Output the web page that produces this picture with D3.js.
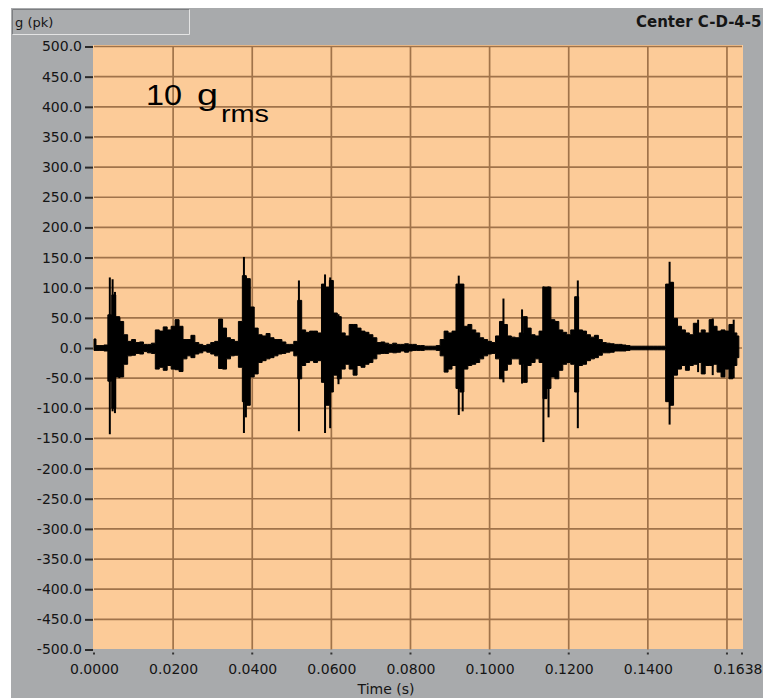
<!DOCTYPE html>
<html>
<head>
<meta charset="utf-8">
<title>Center C-D-4-5</title>
<script src="https://cdn.jsdelivr.net/npm/d3@7"></script>
<style>
    html, body { margin: 0; padding: 0; background: #fff; }
    #chart { width: 763px; height: 698px; }
</style>
</head>
<body>
<div id="chart"></div>
<script>
// Waveform envelope (min/max per 1 ms sample)
const t0 = 0;
const dt = 0.001;

const peakHigh = [
    15, 4, 4, 5,
    55, 88, 52, 44, 22, 11,
    14, 9, 10, 6, 6, 8,
    30, 28, 35, 30, 36, 47, 36, 14, 14, 21,
    9, 6, 4, 6, 9, 11, 48, 33, 17, 14,
    11, 44, 120, 115, 68, 33, 22, 20, 24, 17,
    14, 14, 10, 6, 6, 11, 79, 30, 26, 28,
    28, 25, 106, 101, 112, 58, 52, 25, 20, 39,
    39, 33, 28, 26, 22, 17, 9, 10, 8, 6,
    8, 6, 6, 7, 6, 6, 4, 4, 3, 3,
    3, 4, 14, 28, 25, 28, 106, 106, 36, 39,
    30, 25, 17, 14, 11, 9, 20, 44, 39, 20,
    18, 17, 25, 52, 33, 22, 20, 28, 101, 101,
    47, 44, 30, 26, 22, 30, 85, 30, 28, 22,
    18, 21, 14, 9, 8, 7, 6, 6, 5, 4,
    3, 3, 3, 3, 3, 3, 3, 3, 3, 106,
    109, 49, 36, 30, 25, 22, 41, 25, 30, 25,
    47, 36, 28, 30, 28, 39, 25, 20
];

const peakLow = [
    -4, -4, -4, -5,
    -55, -100, -48, -48, -27, -13,
    -12, -9, -10, -6, -8, -9,
    -35, -32, -37, -29, -35, -36, -39, -18, -13, -16,
    -10, -8, -5, -7, -10, -13, -34, -35, -18, -13,
    -12, -32, -89, -95, -48, -43, -24, -21, -18, -16,
    -13, -10, -9, -7, -5, -13, -51, -29, -24, -21,
    -24, -21, -57, -95, -73, -45, -51, -35, -27, -35,
    -45, -29, -32, -27, -24, -18, -10, -9, -9, -7,
    -8, -7, -5, -7, -5, -4, -4, -4, -3, -3,
    -3, -4, -13, -40, -35, -29, -67, -73, -35, -29,
    -27, -24, -18, -13, -10, -9, -18, -51, -37, -27,
    -18, -18, -27, -57, -29, -24, -18, -24, -84, -67,
    -48, -51, -37, -27, -24, -27, -73, -29, -27, -21,
    -18, -16, -12, -8, -8, -7, -5, -5, -5, -4,
    -3, -3, -3, -3, -3, -3, -3, -3, -3, -89,
    -95, -45, -35, -29, -37, -29, -27, -24, -43, -29,
    -29, -27, -40, -48, -35, -51, -29, -16
];

// Narrow shock spikes on top of the envelope
const spikeTime = [0.0040, 0.0047, 0.0053, 0.0064, 0.0379, 0.0384, 0.0518, 0.0584, 0.0597, 0.0618,
                   0.0922, 0.0932, 0.1035, 0.1082, 0.1136, 0.1149, 0.1223, 0.1455, 0.1461, 0.1527,
                   0.1564, 0.1617];
const spikeHigh = [117, 114, 93, 50, 151, 118, 112, 122, 117, 56,
                   120, 106, 82, 64, 102, 102, 112, 143, 109, 47,
                   49, 47];
const spikeLow = [-143, -105, -108, -50, -141, -115, -138, -141, -133, -60,
                  -111, -105, -57, -59, -156, -115, -133, -127, -89, -40,
                  -45, -50];

const yTickValues = [500, 450, 400, 350, 300, 250, 200, 150, 100, 50, 0,
                     -50, -100, -150, -200, -250, -300, -350, -400, -450, -500];
const xGridValues = [0.02, 0.04, 0.06, 0.08, 0.10, 0.12, 0.14, 0.16];
const xLabelValues = [0, 0.02, 0.04, 0.06, 0.08, 0.10, 0.12, 0.14, 0.1638];

const yTitle = 'g (pk)';
const xTitle = 'Time (s)';
const plotTitle = 'Center C-D-4-5';

const W = 763, H = 698;
const plot = { left: 94, right: 742, top: 46.5, bottom: 649.5 };
const colors = {
    frame: '#a8aaac',
    plotBg: '#fccb98',
    grid: '#a0734a',
    text: '#151515',
    trace: '#000'
};
const uiFont = '"DejaVu Sans", Verdana, sans-serif';
const noteFont = '"Liberation Sans", Arial, sans-serif';

const x = d3.scaleLinear().domain([0, 0.1638]).range([plot.left, plot.right]);
const y = d3.scaleLinear().domain([-500, 500]).range([plot.bottom, plot.top]);

const svg = d3.select('#chart').append('svg')
    .attr('width', W)
    .attr('height', H);

// window frame
svg.append('rect').attr('width', W).attr('height', H).attr('fill', '#fff');
svg.append('rect')
    .attr('x', 11).attr('y', 8)
    .attr('width', W - 11).attr('height', H - 8)
    .attr('fill', colors.frame);

// y name box (top left)
const box = svg.append('g');
box.append('rect')
    .attr('x', 12.5).attr('y', 9.5).attr('width', 177).attr('height', 25)
    .attr('fill', '#aaacae');
box.append('path')
    .attr('d', 'M12.5,34.5 V9.5 H189.5')
    .attr('fill', 'none').attr('stroke', '#7c7e81');
box.append('path')
    .attr('d', 'M12.5,34.5 H189.5 V9.5')
    .attr('fill', 'none').attr('stroke', '#e4e4e4');
box.append('text')
    .attr('x', 15).attr('y', 27)
    .attr('font-family', uiFont).attr('font-size', 13)
    .attr('fill', colors.text)
    .text(yTitle);

// plot title (top right)
svg.append('text')
    .attr('x', 636).attr('y', 27)
    .attr('font-family', uiFont).attr('font-size', 15).attr('font-weight', 'bold')
    .attr('fill', colors.text)
    .text(plotTitle);

// plot background
svg.append('rect')
    .attr('x', plot.left - 1).attr('y', plot.top - 1.5)
    .attr('width', plot.right - plot.left + 2).attr('height', plot.bottom - plot.top + 1)
    .attr('fill', colors.plotBg);

// grid
const grid = svg.append('g').attr('stroke', colors.grid).attr('stroke-width', 1.7);
grid.selectAll('.hgrid')
    .data(yTickValues.filter(v => v !== -500))
    .enter().append('line')
    .attr('x1', plot.left).attr('x2', plot.right)
    .attr('y1', d => y(d)).attr('y2', d => y(d));
grid.selectAll('.vgrid')
    .data(xGridValues)
    .enter().append('line')
    .attr('y1', plot.top).attr('y2', plot.bottom)
    .attr('x1', d => x(d)).attr('x2', d => x(d));

// y axis
const yAxis = svg.append('g')
    .attr('transform', `translate(${plot.left - 1},0)`)
    .call(d3.axisLeft(y).tickValues(yTickValues).tickSize(8).tickPadding(3)
        .tickFormat(d => d.toFixed(1)));
yAxis.select('.domain').remove();
yAxis.selectAll('.tick line').attr('stroke', '#2a2a2a').attr('stroke-width', 2);
yAxis.selectAll('.tick text')
    .attr('font-family', uiFont).attr('font-size', 14).attr('fill', colors.text);

// x axis
const xAxis = svg.append('g')
    .attr('transform', `translate(0,${plot.bottom + 1})`)
    .call(d3.axisBottom(x).tickValues(xLabelValues).tickSize(0).tickPadding(14)
        .tickFormat(d => d.toFixed(4)));
xAxis.select('.domain').remove();
xAxis.selectAll('.tick text')
    .attr('font-family', uiFont).attr('font-size', 14).attr('fill', colors.text);
// last label sits against the right edge of the window
xAxis.selectAll('.tick text')
    .filter(d => d === 0.1638)
    .attr('text-anchor', 'end')
    .attr('x', W - 1 - x(0.1638));

// small tick dots under the plot
svg.append('g').selectAll('rect')
    .data([0].concat(xGridValues, [0.1638]))
    .enter().append('rect')
    .attr('x', d => x(d) - 1).attr('y', plot.bottom + 3)
    .attr('width', 2).attr('height', 2)
    .attr('fill', '#333');

svg.append('text')
    .attr('x', 386).attr('y', 694)
    .attr('text-anchor', 'middle')
    .attr('font-family', uiFont).attr('font-size', 14)
    .attr('fill', colors.text)
    .text(xTitle);

// trace
svg.append('clipPath').attr('id', 'plot-clip')
    .append('rect')
    .attr('x', plot.left - 1).attr('y', plot.top - 1.5)
    .attr('width', plot.right - plot.left + 2).attr('height', plot.bottom - plot.top + 1);

const samples = peakHigh.map((hi, i) => ({ t: t0 + i * dt, hi: hi, lo: peakLow[i] }));
const trace = svg.append('g').attr('clip-path', 'url(#plot-clip)');

const envelope = d3.area()
    .x(d => x(d.t))
    .y0(d => y(d.lo))
    .y1(d => y(d.hi))
    .curve(d3.curveStep);

trace.append('path')
    .datum(samples)
    .attr('d', envelope)
    .attr('fill', colors.trace)
    .attr('stroke', colors.trace)
    .attr('stroke-width', 1);

trace.selectAll('.spike')
    .data(spikeTime.map((t, i) => ({ t: t, hi: spikeHigh[i], lo: spikeLow[i] })))
    .enter().append('line')
    .attr('class', 'spike')
    .attr('x1', d => x(d.t)).attr('x2', d => x(d.t))
    .attr('y1', d => y(d.hi)).attr('y2', d => y(d.lo))
    .attr('stroke', colors.trace)
    .attr('stroke-width', 2);

// annotation "10 g rms" (slightly wide lettering, as in the picture)
const note = svg.append('g').attr('font-family', noteFont).attr('fill', '#000');
note.append('text')
    .attr('x', 146).attr('y', 105)
    .attr('font-size', 29)
    .attr('textLength', 36).attr('lengthAdjust', 'spacingAndGlyphs')
    .text('10');
note.append('text')
    .attr('x', 197).attr('y', 105)
    .attr('font-size', 29)
    .attr('textLength', 21).attr('lengthAdjust', 'spacingAndGlyphs')
    .text('g');
note.append('text')
    .attr('x', 221).attr('y', 122)
    .attr('font-size', 24)
    .attr('textLength', 48).attr('lengthAdjust', 'spacingAndGlyphs')
    .text('rms');
</script>
</body>
</html>
